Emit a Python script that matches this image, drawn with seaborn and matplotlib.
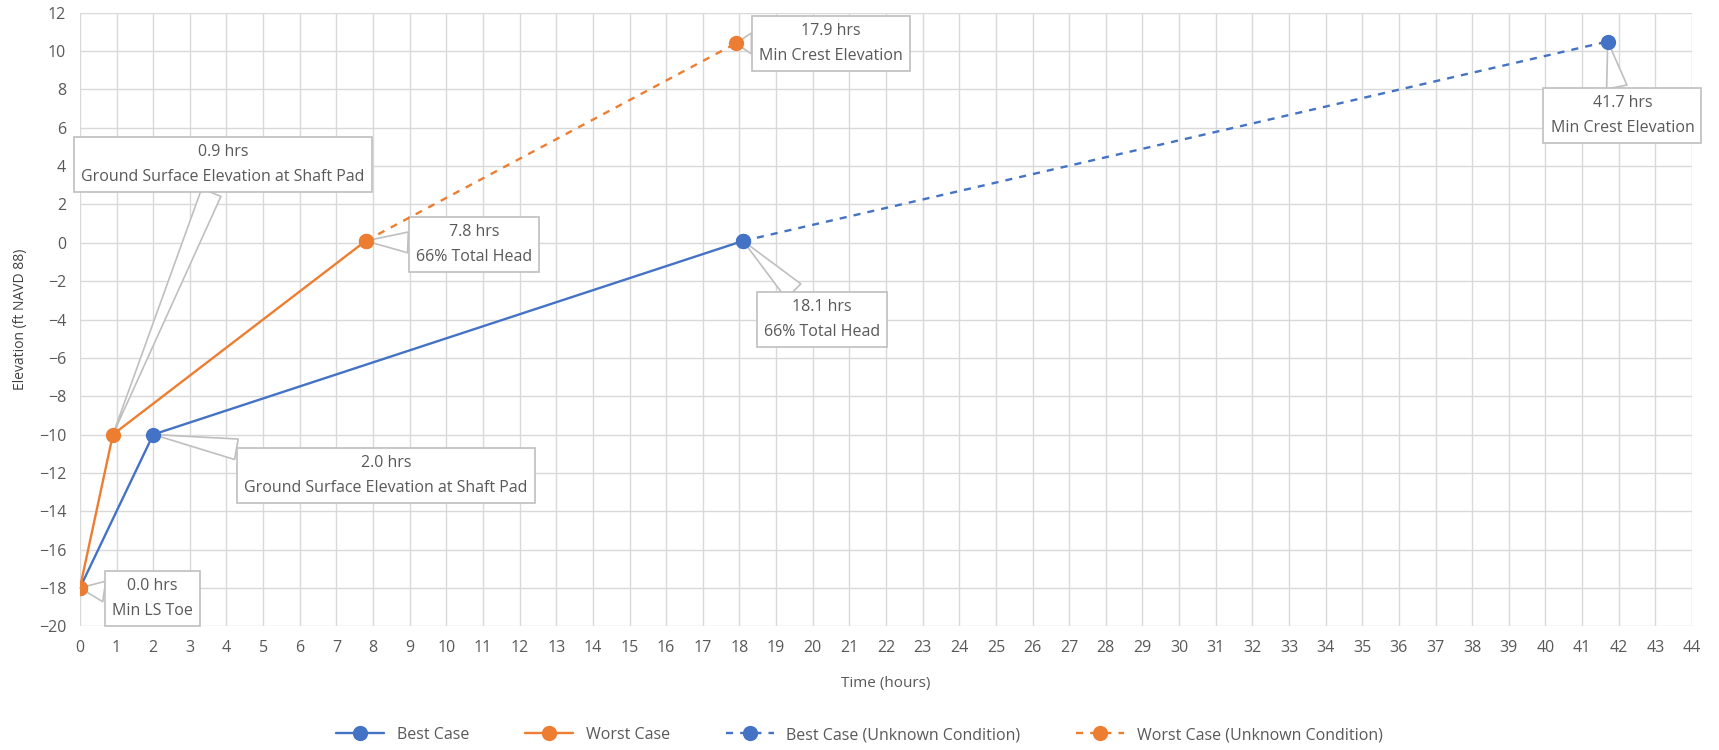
import numpy as np
import pandas as pd
import seaborn as sns
import matplotlib.pyplot as plt

# series (time in hours, elevation in ft NAVD 88)
best_t = [0.0, 2.0, 18.1]
best_z = [-18.0, -10.0, 0.1]
worst_t = [0.0, 0.9, 7.8]
worst_z = [-18.0, -10.0, 0.1]
best_unk_t = [18.1, 41.7]
best_unk_z = [0.1, 10.5]
worst_unk_t = [7.8, 17.9]
worst_unk_z = [0.1, 10.4]

series_names = ["Best Case", "Worst Case",
                "Best Case (Unknown Condition)", "Worst Case (Unknown Condition)"]

# callouts: (label, point x, point y, box x, box y)
callouts = [
    ("0.0 hrs\nMin LS Toe", 0.0, -18.0, 1.98, -18.55),
    ("0.9 hrs\nGround Surface Elevation at Shaft Pad", 0.9, -10.0, 3.9, 4.1),
    ("2.0 hrs\nGround Surface Elevation at Shaft Pad", 2.0, -10.0, 8.35, -12.15),
    ("7.8 hrs\n66% Total Head", 7.8, 0.1, 10.75, -0.1),
    ("18.1 hrs\n66% Total Head", 18.1, 0.1, 20.25, -4.0),
    ("17.9 hrs\nMin Crest Elevation", 17.9, 10.4, 20.5, 10.4),
    ("41.7 hrs\nMin Crest Elevation", 41.7, 10.5, 42.1, 6.65),
]

blue = "#4472C4"
orange = "#ED7D31"
txt = "#595959"

frames = []
for name, t, z in zip(series_names,
                      [best_t, worst_t, best_unk_t, worst_unk_t],
                      [best_z, worst_z, best_unk_z, worst_unk_z]):
    frames.append(pd.DataFrame({"Time": t, "Elevation": z, "series": name}))
df = pd.concat(frames, ignore_index=True)

sns.set_style("white")
plt.rcParams["font.family"] = ["Open Sans", "DejaVu Sans"]

fig = plt.figure(figsize=(17.19, 7.5), dpi=100)
ax = fig.add_axes([0.0465, 0.165, 0.9378, 0.818])

palette = {series_names[0]: blue, series_names[1]: orange,
           series_names[2]: blue, series_names[3]: orange}
dashes = {series_names[0]: "", series_names[1]: "",
          series_names[2]: (3, 3), series_names[3]: (3, 3)}
markers = {n: "o" for n in series_names}

sns.lineplot(data=df, x="Time", y="Elevation", hue="series", style="series",
             hue_order=series_names, style_order=series_names,
             palette=palette, dashes=dashes, markers=markers,
             markersize=11, markeredgewidth=0, linewidth=1.7,
             sort=False, estimator=None, ax=ax, zorder=3)

ax.set_xlim(0, 44)
ax.set_ylim(-20, 12)
ax.set_xticks(np.arange(0, 45, 1))
ax.set_yticks(np.arange(-20, 13, 2))
ax.grid(True, color="#d9d9d9", linewidth=1.0)
ax.set_axisbelow(True)
for s in ax.spines.values():
    s.set_visible(False)
ax.tick_params(axis="both", length=0, labelsize=11.5, labelcolor=txt, pad=10)
ax.set_xlabel("Time (hours)", fontsize=11, color=txt, labelpad=14)
ax.set_ylabel("Elevation (ft NAVD 88)", fontsize=10, color="#404040", labelpad=8)

for label, px, py, bx, by in callouts:
    ax.annotate(label, xy=(px, py), xytext=(bx, by), ha="center", va="center",
                fontsize=11.5, color=txt, linespacing=1.75, zorder=2.5,
                bbox=dict(boxstyle="square,pad=0.45", fc="white", ec="#bfbfbf", lw=1.2),
                arrowprops=dict(arrowstyle="wedge,tail_width=1.3,shrink_factor=0.5",
                                fc="white", ec="#bfbfbf", lw=1.2, shrinkA=0, shrinkB=0))

handles, labels = ax.get_legend_handles_labels()
ax.get_legend().remove()
fig.legend(handles, labels, loc="center", bbox_to_anchor=(0.5, 0.02), ncol=4,
           frameon=False, fontsize=11.5, labelcolor=txt, columnspacing=3.5,
           handlelength=3.0)

fig.savefig("out.png", dpi=100)
